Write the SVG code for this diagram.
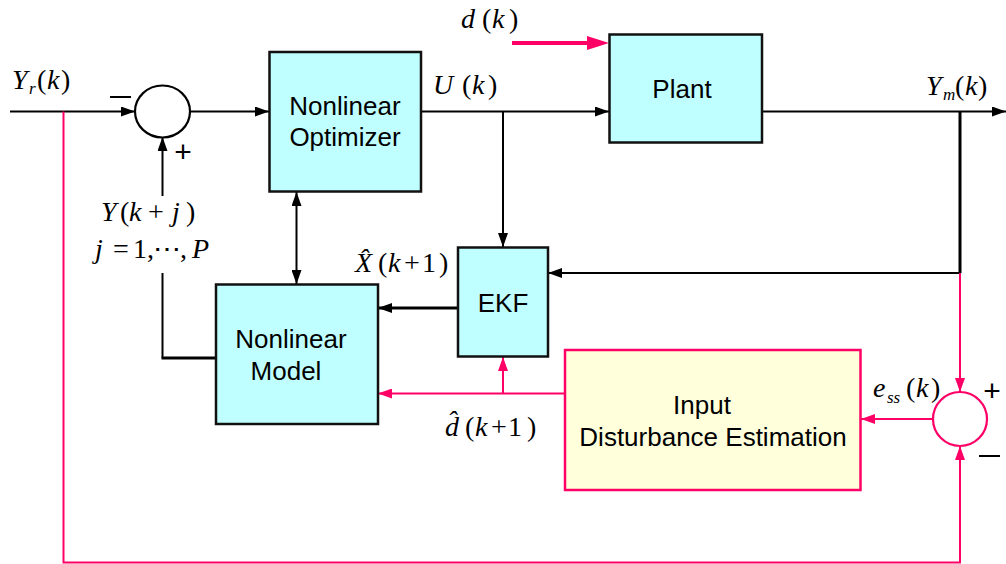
<svg xmlns="http://www.w3.org/2000/svg" width="1006" height="564" viewBox="0 0 1006 564">
<style>
.box{fill:#c0ffff;stroke:#111;stroke-width:2.5}
.ide{fill:#ffffdc;stroke:#ff0066;stroke-width:2.5}
.lbl{font-family:"Liberation Sans",Arial,sans-serif;font-size:26px;fill:#000;text-anchor:middle}
.m{font-family:"Liberation Serif","Times New Roman",serif;font-size:28px;fill:#000}
.i{font-style:italic}
.sub{font-size:17px;font-style:italic}
.k{fill:none;stroke:#000;stroke-width:2}
.kt{fill:none;stroke:#000;stroke-width:3}
.p{fill:none;stroke:#ff0066;stroke-width:2}
.sign{font-family:"Liberation Sans",Arial,sans-serif;font-size:30px;fill:#000}
</style>
<defs>
<marker id="ak" markerUnits="userSpaceOnUse" markerWidth="14" markerHeight="10" refX="14" refY="5" orient="auto-start-reverse">
<path d="M0,0 L14,5 L0,10 z" fill="#000"/>
</marker>
<marker id="ap" markerUnits="userSpaceOnUse" markerWidth="14" markerHeight="10" refX="14" refY="5" orient="auto-start-reverse">
<path d="M0,0 L14,5 L0,10 z" fill="#ff0066"/>
</marker>
</defs>

<g id="connectors">
<path class="k" d="M10,111.5 H135" marker-end="url(#ak)"/>
<path class="k" d="M190,111.5 H269" marker-end="url(#ak)"/>
<path class="k" d="M421,111.5 H609" marker-end="url(#ak)"/>
<path class="k" d="M762,111.5 H1006" marker-end="url(#ak)"/>
<path class="k" d="M503,111.5 V247" marker-end="url(#ak)"/>
<path class="kt" d="M960,111.5 V273"/>
<path class="k" d="M960,273 H548" marker-end="url(#ak)"/>
<path class="kt" d="M458,308 H378" marker-end="url(#ak)"/>
<path class="k" d="M296.5,192 V284" marker-start="url(#ak)" marker-end="url(#ak)"/>
<path class="k" d="M162.5,196 V137" marker-end="url(#ak)"/>
<path class="k" d="M162.5,273 V358"/>
<path class="kt" d="M161.5,358 H216"/>
<path d="M512,43 H590" stroke="#ff0066" stroke-width="4" fill="none"/>
<polygon points="587,36 609,43 587,50" fill="#ff0066"/>
<path class="p" d="M63.5,111.5 V562.5 H960 V446" marker-end="url(#ap)"/>
<path class="p" d="M960,273 V392" marker-end="url(#ap)"/>
<path class="p" d="M933,419 H861" marker-end="url(#ap)"/>
<path class="p" d="M565,393.5 H378" marker-end="url(#ap)"/>
<path class="p" d="M503,393.5 V357" marker-end="url(#ap)"/>
</g>

<g id="sum1">
<ellipse cx="162.5" cy="111.5" rx="27.5" ry="26" fill="#fff" stroke="#000" stroke-width="2.2"/>
<path d="M110,97 H131" stroke="#000" stroke-width="2"/>
<text class="sign" x="183" y="162" text-anchor="middle">+</text>
</g>

<g id="sum2">
<circle cx="960" cy="419" r="27" fill="#fff" stroke="#ff0066" stroke-width="2.2"/>
<text class="sign" x="992" y="401" text-anchor="middle">+</text>
<path d="M979,456 H1000" stroke="#000" stroke-width="2"/>
</g>

<g id="optimizer">
<rect class="box" x="269.5" y="52" width="151.5" height="139.5"/>
<text class="lbl" x="345" y="115">Nonlinear</text>
<text class="lbl" x="345" y="146">Optimizer</text>
</g>

<g id="plant">
<rect class="box" x="609.5" y="34.5" width="152.5" height="108"/>
<text class="lbl" x="682" y="98">Plant</text>
</g>

<g id="model">
<rect class="box" x="216" y="284.5" width="162" height="139.5"/>
<text class="lbl" x="291" y="348">Nonlinear</text>
<text class="lbl" x="286" y="380">Model</text>
</g>

<g id="ekf">
<rect class="box" x="458" y="247.5" width="90" height="109"/>
<text class="lbl" x="503" y="312">EKF</text>
</g>

<g id="ide">
<rect class="ide" x="565" y="350" width="295.5" height="140"/>
<text class="lbl" x="702" y="414">Input</text>
<text class="lbl" x="713" y="446">Disturbance Estimation</text>
</g>

<g id="labels">
<text class="m" y="89"><tspan class="i" x="12">Y</tspan><tspan class="sub" x="29" y="94">r</tspan><tspan x="37" y="89">(</tspan><tspan class="i" x="47">k</tspan><tspan x="61">)</tspan></text>
<text class="m" y="28"><tspan class="i" x="461">d</tspan><tspan x="482">(</tspan><tspan class="i" x="492">k</tspan><tspan x="509">)</tspan></text>
<text class="m" y="94"><tspan class="i" x="433">U</tspan><tspan x="462">(</tspan><tspan class="i" x="472">k</tspan><tspan x="488">)</tspan></text>
<text class="m" y="95"><tspan class="i" x="926">Y</tspan><tspan class="sub" x="943" y="100">m</tspan><tspan x="955" y="95">(</tspan><tspan class="i" x="965">k</tspan><tspan x="978">)</tspan></text>
<text class="m" y="221"><tspan class="i" x="101">Y</tspan><tspan x="120">(</tspan><tspan class="i" x="129">k</tspan><tspan x="148">+</tspan><tspan class="i" x="172">j</tspan><tspan x="186">)</tspan></text>
<text class="m" y="258"><tspan class="i" x="95">j</tspan><tspan x="113">=</tspan><tspan x="133">1,</tspan><tspan x="153">⋯</tspan><tspan x="180">,</tspan><tspan class="i" x="192">P</tspan></text>
<text class="m" y="272"><tspan class="i" x="355">X̂</tspan><tspan x="378">(</tspan><tspan class="i" x="388">k</tspan><tspan x="404">+</tspan><tspan x="422">1</tspan><tspan x="439">)</tspan></text>
<text class="m" y="436"><tspan class="i" x="445">d̂</tspan><tspan x="465">(</tspan><tspan class="i" x="475">k</tspan><tspan x="491">+</tspan><tspan x="508">1</tspan><tspan x="527">)</tspan></text>
<text class="m" y="397"><tspan class="i" x="873">e</tspan><tspan class="sub" x="887" y="403">ss</tspan><tspan x="906" y="397">(</tspan><tspan class="i" x="916">k</tspan><tspan x="931">)</tspan></text>
</g>
</svg>
